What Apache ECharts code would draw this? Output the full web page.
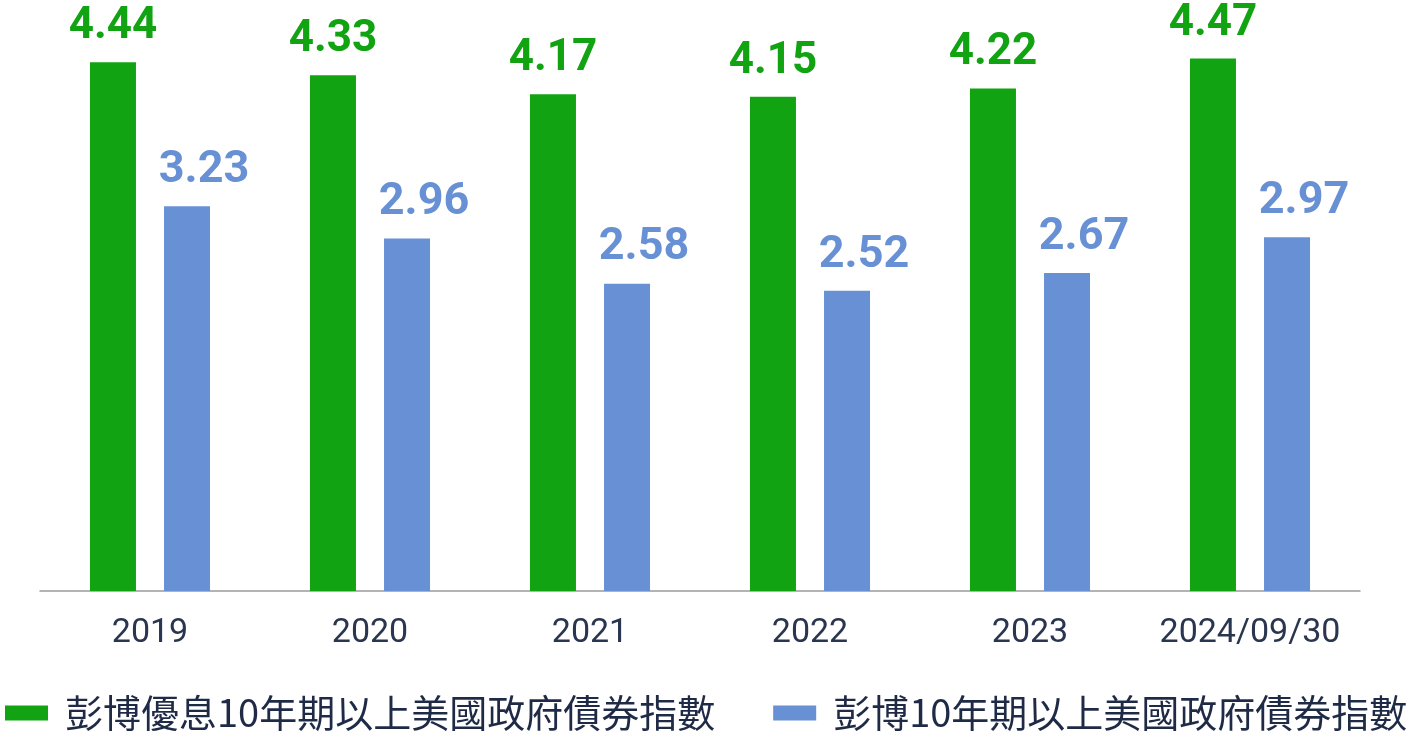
<!DOCTYPE html>
<html><head><meta charset="utf-8">
<script src="https://cdn.jsdelivr.net/npm/echarts@6/dist/echarts.min.js"></script>
<style>html,body{margin:0;padding:0;background:#fff}#c{width:1413px;height:739px}</style>
</head><body><div id="c"></div>
<script>
const categories = ['2019','2020','2021','2022','2023','2024/09/30'];
const seriesNames = ['彭博優息10年期以上美國政府債券指數','彭博10年期以上美國政府債券指數'];
const greenValues = [4.44, 4.33, 4.17, 4.15, 4.22, 4.47];
const blueValues = [3.23, 2.96, 2.58, 2.52, 2.67, 2.97];

const GREEN = '#12a312';
const BLUE = '#6890d4';
const chart = echarts.init(document.getElementById('c'));
chart.setOption({
  animation: false,
  backgroundColor: '#fff',
  grid: { left: 40, right: 53, top: 0, bottom: 148, containLabel: false },
  legend: {
    left: 0, top: 689,
    itemWidth: 43, itemHeight: 15, itemGap: 58,
    icon: 'rect',
    textStyle: { fontFamily: 'Noto Sans CJK TC', fontSize: 38, color: '#1f2a46', padding: [0,0,0,12] },
    data: seriesNames
  },
  xAxis: {
    type: 'category', data: categories,
    axisLine: { lineStyle: { color: '#9a9a9a', width: 1.5 } },
    axisTick: { show: false },
    axisLabel: { interval: 0, fontFamily: 'Roboto', fontSize: 34, color: '#2a3550', margin: 25 }
  },
  yAxis: { type: 'value', min: 0, max: 4.962, show: false, splitLine: { show: false } },
  series: [
    { name: seriesNames[0], type: 'bar', data: greenValues, barWidth: 46, barGap: '61%',
      itemStyle: { color: GREEN },
      label: { show: true, position: 'top', distance: 13, fontFamily: 'Roboto', fontWeight: 'bold', fontSize: 44, color: GREEN, formatter: p => p.value.toFixed(2) } },
    { name: seriesNames[1], type: 'bar', data: blueValues, barWidth: 46,
      itemStyle: { color: BLUE },
      label: { show: true, position: 'top', distance: 13, offset: [17, 0], fontFamily: 'Roboto', fontWeight: 'bold', fontSize: 45, color: BLUE, formatter: p => p.value.toFixed(2) } }
  ]
});
</script></body></html>
